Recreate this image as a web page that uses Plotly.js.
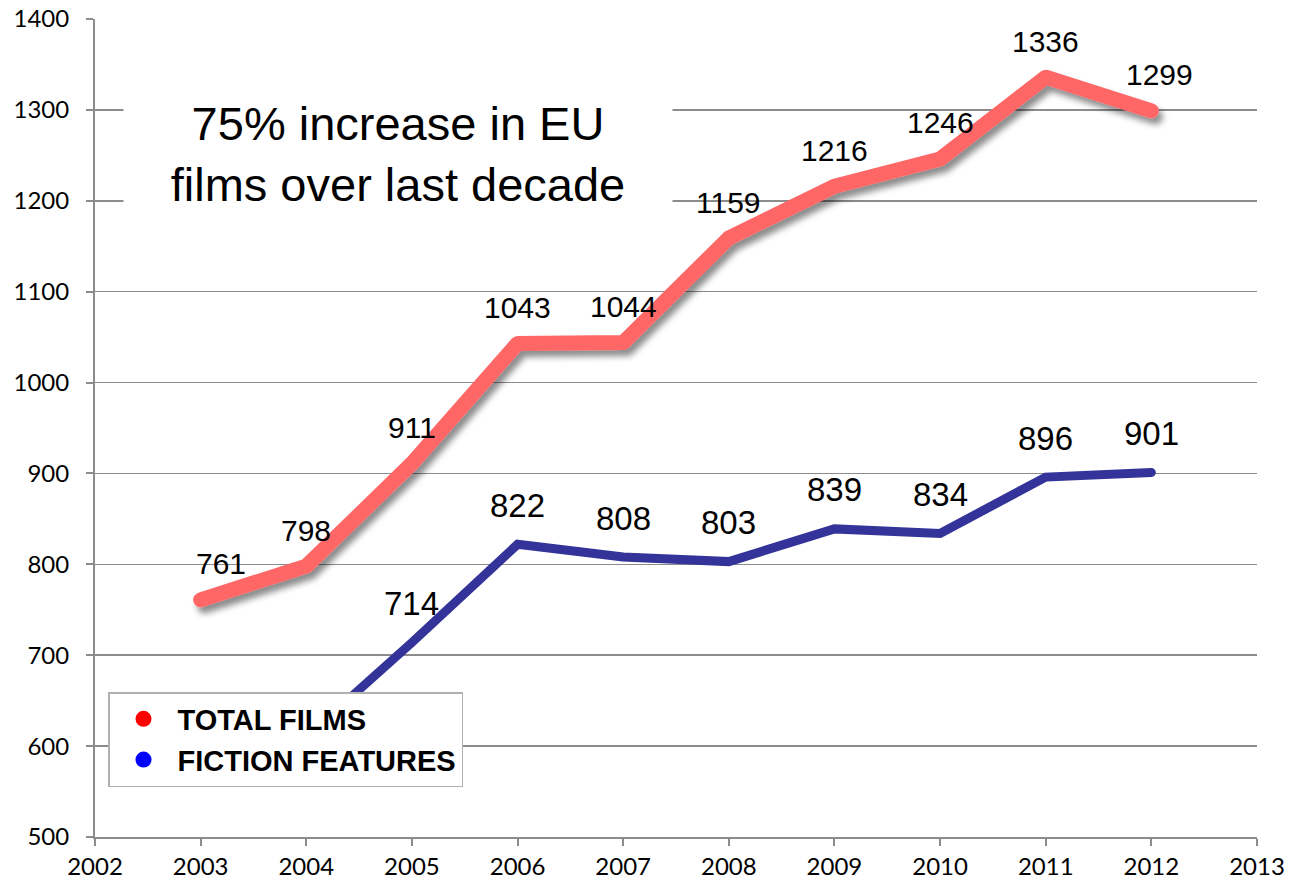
<!DOCTYPE html>
<html>
<head>
<meta charset="utf-8">
<script src="https://cdn.plot.ly/plotly-3.0.1.min.js"></script>
<style>
  html, body { margin: 0; padding: 0; background: #fff; }
  #chart { width: 1292px; height: 880px; }
</style>
</head>
<body>
<div id="chart"></div>
<script>
// EU film production by year
const years = [2003, 2004, 2005, 2006, 2007, 2008, 2009, 2010, 2011, 2012];
const totalFilms = [761, 798, 911, 1043, 1044, 1159, 1216, 1246, 1336, 1299];
const fictionYears = [2004, 2005, 2006, 2007, 2008, 2009, 2010, 2011, 2012];
const fictionFeatures = [610, 714, 822, 808, 803, 839, 834, 896, 901];
const fictionLabelled = [2005, 2006, 2007, 2008, 2009, 2010, 2011, 2012];

const seriesNames = ['TOTAL FILMS', 'FICTION FEATURES'];
const headline = '75% increase in EU<br>films over last decade';

const RED = '#ff6666';
const BLUE = '#333399';
const GRID = '#8c8c8c';
const LABEL_FONT = 'Liberation Sans, Arial, sans-serif';
const TICK_FONT = 'Lato, DejaVu Sans, sans-serif';

const traces = [
  {
    x: years, y: totalFilms, type: 'scatter', mode: 'lines',
    line: { color: RED, width: 15 }, showlegend: false, hoverinfo: 'x+y'
  },
  {
    x: fictionYears, y: fictionFeatures, type: 'scatter', mode: 'lines',
    line: { color: BLUE, width: 9 }, showlegend: false, hoverinfo: 'x+y'
  },
  // legend entries shown as plain dots
  {
    x: [null], y: [null], type: 'scatter', mode: 'markers', name: seriesNames[0],
    marker: { color: '#ff0000', size: 17 }
  },
  {
    x: [null], y: [null], type: 'scatter', mode: 'markers', name: seriesNames[1],
    marker: { color: '#0000ff', size: 17 }
  }
];

// value labels above each point
const annotations = [];
years.forEach((yr, i) => {
  annotations.push({
    x: yr, y: totalFilms[i], xref: 'x', yref: 'y', text: String(totalFilms[i]),
    showarrow: false, yshift: 36,
    xshift: i === 0 ? 20 : (i === years.length - 1 ? 8 : 0),
    font: { family: LABEL_FONT, size: 30, color: '#000' }
  });
});
fictionYears.forEach((yr, i) => {
  if (!fictionLabelled.includes(yr)) return;
  annotations.push({
    x: yr, y: fictionFeatures[i], xref: 'x', yref: 'y', text: String(fictionFeatures[i]),
    showarrow: false, yshift: 39,
    font: { family: LABEL_FONT, size: 33, color: '#000' }
  });
});
annotations.push({
  x: (123 - 95) / 1162, xanchor: 'left', xref: 'paper',
  y: 1252, yref: 'y', yanchor: 'middle',
  text: headline, showarrow: false, bgcolor: '#ffffff',
  width: 546, height: 150, align: 'center',
  font: { family: LABEL_FONT, size: 47, color: '#000' }
});

const layout = {
  width: 1292, height: 880,
  margin: { l: 95, r: 35, t: 19, b: 43 },
  paper_bgcolor: '#ffffff', plot_bgcolor: '#ffffff',
  xaxis: {
    range: [2002, 2013], dtick: 1, tick0: 2002,
    showgrid: false, zeroline: false,
    showline: true, linecolor: GRID, linewidth: 2,
    ticks: 'outside', ticklen: 7, tickcolor: GRID, tickwidth: 2,
    tickfont: { family: TICK_FONT, size: 24, color: '#000' }
  },
  yaxis: {
    range: [500, 1400], dtick: 100,
    showgrid: true, gridcolor: GRID, gridwidth: 1.5, zeroline: false,
    showline: true, linecolor: GRID, linewidth: 2,
    ticks: 'outside', ticklen: 7, tickcolor: GRID, tickwidth: 2,
    ticklabelstandoff: 12,
    tickfont: { family: TICK_FONT, size: 24, color: '#000' }
  },
  legend: {
    x: (108 - 95) / 1162, y: (837 - 692) / 818, xanchor: 'left', yanchor: 'top',
    bgcolor: '#ffffff', bordercolor: '#b0b0b0', borderwidth: 1.5,
    itemwidth: 58,
    font: { family: LABEL_FONT, size: 29, color: '#000', weight: 'bold' }
  },
  annotations: annotations,
  showlegend: true
};

Plotly.newPlot('chart', traces, layout, { displayModeBar: false, staticPlot: true }).then(gd => {
  // soft drop shadow under the total-films line
  const svg = gd.querySelector('svg.main-svg');
  const ns = 'http://www.w3.org/2000/svg';
  let defs = svg.querySelector('defs');
  if (!defs) { defs = document.createElementNS(ns, 'defs'); svg.insertBefore(defs, svg.firstChild); }
  const filter = document.createElementNS(ns, 'filter');
  filter.setAttribute('id', 'lineShadow');
  filter.setAttribute('x', '-20%'); filter.setAttribute('y', '-20%');
  filter.setAttribute('width', '140%'); filter.setAttribute('height', '140%');
  const shadow = document.createElementNS(ns, 'feDropShadow');
  shadow.setAttribute('dx', '4'); shadow.setAttribute('dy', '6');
  shadow.setAttribute('stdDeviation', '3');
  shadow.setAttribute('flood-color', '#000'); shadow.setAttribute('flood-opacity', '0.45');
  filter.appendChild(shadow);
  defs.appendChild(filter);
  const lines = gd.querySelectorAll('.scatterlayer .trace path.js-line');
  if (lines[0]) {
    lines[0].setAttribute('filter', 'url(#lineShadow)');
    lines[0].style.strokeLinecap = 'round';
    lines[0].style.strokeLinejoin = 'round';
  }
  if (lines[1]) {
    lines[1].style.strokeLinecap = 'round';
  }
});
</script>
</body>
</html>
